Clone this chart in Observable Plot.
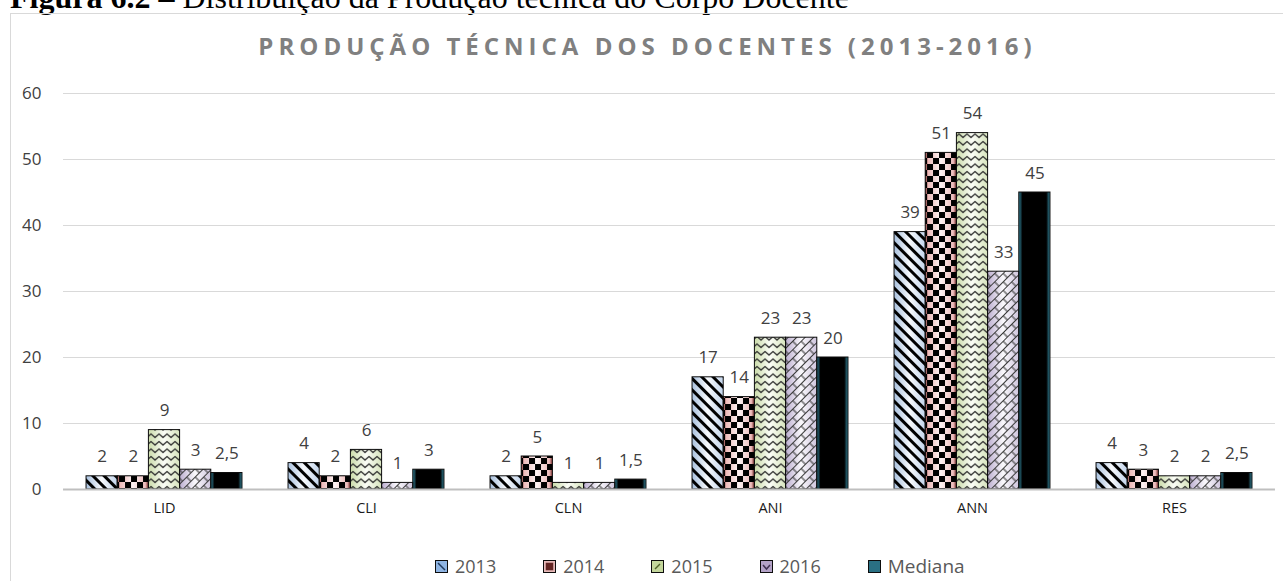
<!DOCTYPE html>
<html>
<head>
<meta charset="utf-8">
<script src="https://cdn.jsdelivr.net/npm/d3@7"></script>
<script src="https://cdn.jsdelivr.net/npm/@observablehq/plot@0.6"></script>
<style>
  html, body { margin: 0; padding: 0; background: #fff; }
  body { width: 1283px; height: 581px; overflow: hidden; position: relative; font-family: "Open Sans", sans-serif; }
  #caption { position: absolute; left: 10px; top: -19px; font: 32px/32px "Liberation Serif", serif; white-space: nowrap; color: #000; }
  #box { position: absolute; left: 10px; top: 13px; width: 1300px; height: 600px; border: 1px solid #d9d9d9; box-sizing: border-box; }
  #title { position: absolute; left: 0; width: 1290px; top: 33px; text-align: center; font: bold 24px/26px "Open Sans", sans-serif; letter-spacing: 5px; padding-left: 5px; box-sizing: border-box; color: #808080; white-space: nowrap; }
  #chart { position: absolute; left: 0; top: 80px; }
  #legend { position: absolute; left: 435px; top: 557px; display: flex; align-items: center; font: 18px/18px "Open Sans", sans-serif; color: #595959; }
  .item { display: flex; align-items: center; margin-right: 47px; }
  .item svg { margin-right: 7px; }
  #legend .last span { font-size: 19px; }
</style>
</head>
<body>
<div id="caption"><b>Figura 6.2 –</b> Distribuição da Produção técnica do Corpo Docente</div>
<div id="box"></div>
<div id="title">PRODUÇÃO TÉCNICA DOS DOCENTES (2013-2016)</div>
<div id="chart"></div>
<div id="legend"></div>
<script>
const categories = ["LID", "CLI", "CLN", "ANI", "ANN", "RES"];
const series = ["2013", "2014", "2015", "2016", "Mediana"];
const v2013 = [2, 4, 2, 17, 39, 4];
const v2014 = [2, 2, 5, 14, 51, 3];
const v2015 = [9, 6, 1, 23, 54, 2];
const v2016 = [3, 1, 1, 23, 33, 2];
const vMediana = [2.5, 3, 1.5, 20, 45, 2.5];
const yTicks = [0, 10, 20, 30, 40, 50, 60];

const valuesBySeries = {"2013": v2013, "2014": v2014, "2015": v2015, "2016": v2016, "Mediana": vMediana};
const data = series.flatMap(s => categories.map((c, i) => ({cat: c, series: s, value: valuesBySeries[s][i]})));
const fmt = v => String(v).replace(".", ",");

const svg = Plot.plot({
  width: 1283,
  height: 440,
  marginTop: 13,
  marginBottom: 31,
  marginLeft: 63,
  marginRight: 8,
  style: {fontFamily: "'Open Sans', sans-serif", color: "#404040", background: "transparent", overflow: "visible"},
  fx: {domain: categories, paddingInner: 0.228, paddingOuter: 0.114, round: false, label: null},
  x: {domain: series, padding: 0, round: false, axis: null},
  y: {domain: [0, 60], label: null},
  color: {type: "identity"},
  marks: [
    Plot.ruleY(yTicks.filter(t => t > 0), {stroke: "#d9d9d9", strokeWidth: 1, insetLeft: -23, insetRight: -23}),
    Plot.barY(data, {fx: "cat", x: "series", y: "value", fill: d => `url(#g${d.series})`}),
    Plot.barY(data, {fx: "cat", x: "series", y: "value", fill: d => d.series === "Mediana" ? "none" : `url(#p${d.series})`, stroke: "#0d0d0d", strokeWidth: 1}),
    Plot.ruleY([0], {stroke: "#bfbfbf", strokeWidth: 2, insetLeft: -23, insetRight: -23}),
    Plot.text(data, {fx: "cat", x: "series", y: "value", text: d => fmt(d.value), dy: -14, lineAnchor: "bottom", fontSize: 17, fill: "#404040"}),
    Plot.axisY(yTicks, {tickSize: 0, tickPadding: 45, fontSize: 17, label: null, color: "#404040"}),
    Plot.axisFx({anchor: "bottom", tickSize: 0, tickPadding: 13, fontSize: 14.5, label: null, color: "#1a1a1a"})
  ]
});

const defs = d3.select(svg).insert("defs", ":first-child");
function grad(id, stops) {
  const g = defs.append("linearGradient").attr("id", id).attr("x1", 0).attr("x2", 1).attr("y1", 0).attr("y2", 0);
  stops.forEach(([o, c]) => g.append("stop").attr("offset", o).attr("stop-color", c));
}
grad("g2013", [[0, "#a9c1de"], [0.5, "#f7f9fc"], [1, "#c3d5ec"]]);
grad("g2014", [[0, "#7a2e2c"], [0.1, "#edbcbb"], [0.5, "#fdf3f3"], [0.9, "#edbcbb"], [1, "#7a2e2c"]]);
grad("g2015", [[0, "#cbdcaa"], [0.5, "#fbfdf7"], [1, "#d7e4bd"]]);
grad("g2016", [[0, "#bcaed0"], [0.5, "#faf9fc"], [1, "#cfc5dd"]]);
grad("gMediana", [[0, "#31859c"], [0.12, "#000"], [0.88, "#000"], [1, "#31859c"]]);

function pattern(id, w, h, transform) {
  const p = defs.append("pattern").attr("id", id).attr("patternUnits", "userSpaceOnUse").attr("width", w).attr("height", h);
  if (transform) p.attr("patternTransform", transform);
  return p;
}
pattern("p2013", 8, 8, "rotate(-45)").append("rect").attr("x", 0).attr("y", 0).attr("width", 3).attr("height", 8).attr("fill", "#000");
const p14 = pattern("p2014", 12, 12);
p14.append("rect").attr("x", 0).attr("y", 0).attr("width", 6).attr("height", 6).attr("fill", "#000");
p14.append("rect").attr("x", 6).attr("y", 6).attr("width", 6).attr("height", 6).attr("fill", "#000");
pattern("p2015", 8, 7.5).append("path").attr("d", "M-4,5 L0,1.5 L4,5 L8,1.5 L12,5").attr("fill", "none").attr("stroke", "#2b2b2b").attr("stroke-width", 1.3);
pattern("p2016", 12, 12, "rotate(-45)").append("path").attr("d", "M0,0.5 H12 M0,6.5 H12 M3,0.5 V6.5 M9,6.5 V12.5").attr("fill", "none").attr("stroke", "#3a3a3a").attr("stroke-width", 1.1);

document.getElementById("chart").appendChild(svg);

// Legend swatches: small versions of each series' look
const swatchStyle = {
  "2013": {fill: "#8eb4e3", glyph: "M3,3 L10,10", glyphStroke: "#1f3a5f"},
  "2014": {fill: "#e6b9b8", glyph: "M3.5,3.5 H9.5 V9.5 H3.5 Z", glyphStroke: "#632523", glyphFill: "#632523"},
  "2015": {fill: "#c3d69b", glyph: "M4,9 L9,4", glyphStroke: "#4f6228"},
  "2016": {fill: "#b3a2c7", glyph: "M3,5 L6.5,9 L10,5", glyphStroke: "#3f3151"},
  "Mediana": {fill: "#2a7083"}
};
const legend = d3.select("#legend");
series.forEach((s, i) => {
  const st = swatchStyle[s];
  const item = legend.append("div").attr("class", "item" + (i === series.length - 1 ? " last" : ""));
  const sw = item.append("svg").attr("width", 13).attr("height", 13);
  sw.append("rect").attr("x", 0.5).attr("y", 0.5).attr("width", 12).attr("height", 12).attr("fill", st.fill).attr("stroke", "#0d0d0d");
  if (st.glyph) sw.append("path").attr("d", st.glyph).attr("fill", st.glyphFill || "none").attr("stroke", st.glyphStroke).attr("stroke-width", 1.5);
  item.append("span").text(s);
});
</script>
</body>
</html>
